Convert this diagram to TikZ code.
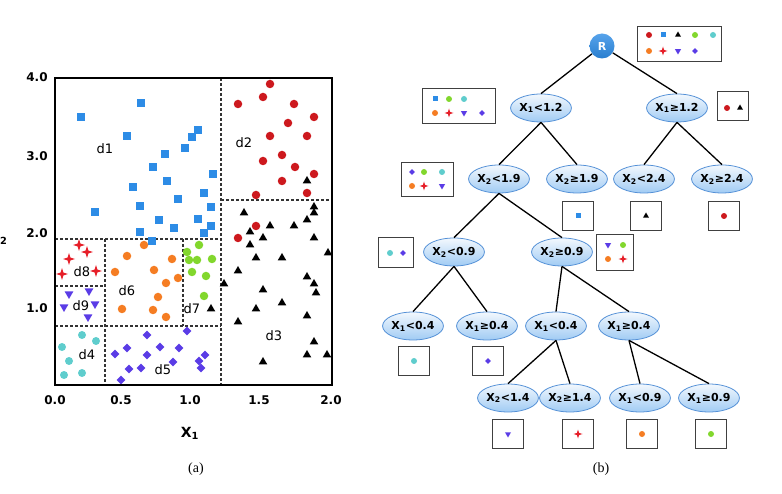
\documentclass[tikz,border=0pt]{standalone}
\usepackage{fontspec}
\setmainfont{DejaVu Sans}
\newfontfamily\capfont{Liberation Serif}
\usetikzlibrary{shapes.geometric}
\definecolor{ptblue}{RGB}{45,140,230}
\definecolor{ptred}{RGB}{205,25,30}
\definecolor{ptorange}{RGB}{245,125,35}
\definecolor{ptgreen}{RGB}{130,215,45}
\definecolor{ptcyan}{RGB}{95,205,205}
\definecolor{ptpurple}{RGB}{90,60,230}
\definecolor{ptcross}{RGB}{230,30,40}
\definecolor{nodeline}{RGB}{85,145,215}
\tikzset{%
    msq/.style={rectangle,fill=ptblue,minimum size=#1,inner sep=0pt},
    msq/.default=7.5pt,
    mci/.style={circle,fill=ptred,minimum size=#1,inner sep=0pt},
    mci/.default=8.5pt,
    mtri/.style={regular polygon,regular polygon sides=3,fill=black,minimum size=#1,inner sep=0pt},
    mtri/.default=10pt,
    mor/.style={circle,fill=ptorange,minimum size=#1,inner sep=0pt},
    mor/.default=8.5pt,
    mgr/.style={circle,fill=ptgreen,minimum size=#1,inner sep=0pt},
    mgr/.default=8.5pt,
    mcy/.style={circle,fill=ptcyan,minimum size=#1,inner sep=0pt},
    mcy/.default=8pt,
    mdn/.style={regular polygon,regular polygon sides=3,shape border rotate=180,fill=ptpurple,minimum size=#1,inner sep=0pt},
    mdn/.default=10pt,
    mdia/.style={diamond,fill=ptpurple,minimum size=#1,inner sep=0pt},
    mdia/.default=9pt,
    mcr/.style={star,star points=4,star point ratio=3,fill=ptcross,minimum size=#1,inner sep=0pt},
    mcr/.default=12pt,
    split/.style={dash pattern=on 3pt off 2pt,line width=1.1pt,black!80},
    test/.style={ellipse,draw=nodeline,line width=0.8pt,top color=ptblue!6,bottom color=ptblue!45,minimum width=58pt,minimum height=28pt,inner sep=0pt,font=\fontsize{11}{13}\selectfont\bfseries},
    root/.style={circle,top color=ptblue!80,bottom color=ptblue!90!black,minimum size=25pt,inner sep=0pt,text=white,font=\fontsize{11}{13}\selectfont\bfseries},
    mbox/.style={rectangle,draw=black!75,fill=white,line width=1pt,inner sep=0pt},
    lbox/.style={mbox,minimum width=31pt,minimum height=29pt},
    edge/.style={line width=1.3pt,black},
    tick/.style={font=\fontsize{12}{14}\selectfont\bfseries},
    dlab/.style={font=\fontsize{13}{15}\selectfont}
}
\begin{document}
\begin{tikzpicture}[x=1pt,y=-1pt]
\useasboundingbox (0,0) rectangle (782,494);

% ---- (a) the partition of the plane
\draw[split] (221,78) -- (221,385);
\draw[split] (221,200) -- (332,200);
\draw[split] (55,239) -- (221,239);
\draw[split] (55,326) -- (221,326);
\draw[split] (105,239) -- (105,385);
\draw[split] (55,286) -- (105,286);
\draw[split] (183,239) -- (183,326);

\foreach \x/\y [count=\i] in {81/117,141/103,127/136,192/137,198/130,185/148,165/154,153/167,167/181,133/187,213/174,204/193,178/199,211/207,140/206,95/212,159/220,198/219,174/228,211/226,140/232,204/233,152/241}
    \node[msq] (sq\i) at (\x,\y) {};
\foreach \x/\y [count=\i] in {270/84,238/104,263/97,294/104,314/117,288/123,270/136,307/136,263/161,282/155,295/167,282/181,314/174,307/193,256/195,256/226,238/238}
    \node[mci] (rc\i) at (\x,\y) {};
\foreach \x/\y [count=\i] in {307/181,314/207,314/213,244/213,307/220,294/226,270/226,250/232,263/238,314/238,250/245,328/253,256/258,282/258,238/271,307/277,224/284,314/284,263/290,316/293,282/303,256/309,307/316,238/322,314/342,307/355,327/355,263/362,211/309}
    \node[mtri] (tr\i) at (\x,\y) {};
\foreach \x/\y [count=\i] in {144/245,127/256,172/259,115/272,154/270,178/278,166/283,158/297,122/309,153/310,166/317}
    \node[mor] (oc\i) at (\x,\y) {};
\foreach \x/\y [count=\i] in {187/252,199/245,189/260,197/260,212/259,192/272,206/276,204/296}
    \node[mgr] (gc\i) at (\x,\y) {};
\foreach \x/\y [count=\i] in {79/245,87/252,69/259,62/274,96/271}
    \node[mcr] (cr\i) at (\x,\y) {};
\foreach \x/\y [count=\i] in {69/294,89/291,64/307,95/304,88/317}
    \node[mdn] (dn\i) at (\x,\y) {};
\foreach \x/\y [count=\i] in {82/335,96/341,62/347,69/361,64/375,82/373}
    \node[mcy] (cy\i) at (\x,\y) {};
\foreach \x/\y [count=\i] in {115/354,127/348,147/335,147/355,160/347,179/348,187/331,173/362,129/369,141/368,199/361,205/355,201/368,121/380}
    \node[mdia] (di\i) at (\x,\y) {};

\foreach \x/\y/\t in {105/149/d1,244/143/d2,274/336/d3,87/355/d4,163/370/d5,127/291/d6,192/309/d7,82/272/d8,81/306/d9}
    \node[dlab] (\t) at (\x,\y) {\t};

\draw[line width=2pt] (55,78) rectangle (332,385);

\foreach \x/\t [count=\i] in {55/0.0,121/0.5,190/1.0,259/1.5,331/2.0}
    \node[tick] (xt\i) at (\x,400) {\t};
\foreach \y/\t [count=\i] in {77/4.0,156/3.0,233/2.0,308/1.0}
    \node[tick] (yt\i) at (37,\y) {\t};
\node[tick,font=\fontsize{14}{16}\selectfont\bfseries] (xlab) at (190,433) {X\textsubscript{1}};
\node[tick,anchor=east,font=\fontsize{14}{16}\selectfont\bfseries] (ylab) at (11,238) {X\textsubscript{2}};
\node[font=\fontsize{14}{16}\selectfont\capfont] (capa) at (196,469) {(a)};

% ---- (b) the tree
\node[root] (R) at (602,46) {R};
\node[test] (a1) at (541,108) {X\textsubscript{1}<1.2};
\node[test] (a2) at (677,108) {X\textsubscript{1}≥1.2};
\node[test] (b1) at (499,179) {X\textsubscript{2}<1.9};
\node[test] (b2) at (577,179) {X\textsubscript{2}≥1.9};
\node[test] (b3) at (644,179) {X\textsubscript{2}<2.4};
\node[test] (b4) at (722,179) {X\textsubscript{2}≥2.4};
\node[test] (c1) at (454,252) {X\textsubscript{2}<0.9};
\node[test] (c2) at (562,252) {X\textsubscript{2}≥0.9};
\node[test] (d1n) at (413,326) {X\textsubscript{1}<0.4};
\node[test] (d2n) at (487,326) {X\textsubscript{1}≥0.4};
\node[test] (d3n) at (556,326) {X\textsubscript{1}<0.4};
\node[test] (d4n) at (629,326) {X\textsubscript{1}≥0.4};
\node[test] (e1) at (508,398) {X\textsubscript{2}<1.4};
\node[test] (e2) at (570,398) {X\textsubscript{2}≥1.4};
\node[test] (e3) at (640,398) {X\textsubscript{1}<0.9};
\node[test] (e4) at (709,398) {X\textsubscript{1}≥0.9};

\draw[edge] (R) -- (a1.north);
\draw[edge] (R) -- (a2.north);
\draw[edge] (a1.south) -- (b1.north);
\draw[edge] (a1.south) -- (b2.north);
\draw[edge] (a2.south) -- (b3.north);
\draw[edge] (a2.south) -- (b4.north);
\draw[edge] (b1.south) -- (c1.north);
\draw[edge] (b1.south) -- (c2.north);
\draw[edge] (c1.south) -- (d1n.north);
\draw[edge] (c1.south) -- (d2n.north);
\draw[edge] (c2.south) -- (d3n.north);
\draw[edge] (c2.south) -- (d4n.north);
\draw[edge] (d3n.south) -- (e1.north);
\draw[edge] (d3n.south) -- (e2.north);
\draw[edge] (d4n.south) -- (e3.north);
\draw[edge] (d4n.south) -- (e4.north);

% class boxes beside the tests
\node[mbox,minimum width=84pt,minimum height=35pt] (allcls) at (679,44) {};
\node[mci=6pt] (k1) at (649,35) {};
\node[msq=5pt] (k2) at (663,35) {};
\node[mtri=7pt] (k3) at (678,35) {};
\node[mgr=6pt] (k4) at (695,35) {};
\node[mcy=6pt] (k5) at (713,35) {};
\node[mor=6pt] (k6) at (649,51) {};
\node[mcr=9pt] (k7) at (663,51) {};
\node[mdn=7pt] (k8) at (678,51) {};
\node[mdia=6pt] (k9) at (695,51) {};

\node[mbox,minimum width=73pt,minimum height=35pt] (lcls) at (459,106) {};
\node[msq=5pt] (l1) at (435,99) {};
\node[mgr=6pt] (l2) at (449,99) {};
\node[mcy=6pt] (l3) at (464,99) {};
\node[mor=6pt] (l4) at (435,113) {};
\node[mcr=9pt] (l5) at (449,113) {};
\node[mdn=7pt] (l6) at (464,113) {};
\node[mdia=6pt] (l7) at (482,113) {};

\node[lbox] (rcls) at (733,106) {};
\node[mci=6pt] (r1) at (727,108) {};
\node[mtri=7pt] (r2) at (740,108) {};

\node[mbox,minimum width=52pt,minimum height=34pt] (bcls) at (427,180) {};
\node[mdia=6pt] (m1) at (412,172) {};
\node[mgr=6pt] (m2) at (424,172) {};
\node[mcy=6pt] (m3) at (442,172) {};
\node[mor=6pt] (m4) at (412,186) {};
\node[mcr=9pt] (m5) at (424,186) {};
\node[mdn=7pt] (m6) at (442,186) {};

\node[mbox,minimum width=35pt,minimum height=30pt] (ccls) at (396,253) {};
\node[mcy=6pt] (n1) at (390,253) {};
\node[mdia=6pt] (n2) at (403,253) {};

\node[mbox,minimum width=37pt,minimum height=36pt] (dcls) at (615,253) {};
\node[mdn=7pt] (o1) at (608,245) {};
\node[mgr=6pt] (o2) at (623,245) {};
\node[mor=6pt] (o3) at (608,259) {};
\node[mcr=9pt] (o4) at (623,259) {};

% leaves
\node[lbox] (lf1) at (578,216) {};
\node[msq=5pt] at (lf1) {};
\node[lbox] (lf2) at (646,216) {};
\node[mtri=7pt] at (lf2) {};
\node[lbox] (lf3) at (724,216) {};
\node[mci=6pt] at (lf3) {};
\node[lbox] (lf4) at (414,361) {};
\node[mcy=6pt] at (lf4) {};
\node[lbox] (lf5) at (488,361) {};
\node[mdia=6pt] at (lf5) {};
\node[lbox] (lf6) at (508,434) {};
\node[mdn=7pt] at (lf6) {};
\node[lbox] (lf7) at (578,434) {};
\node[mcr=9pt] at (lf7) {};
\node[lbox] (lf8) at (642,434) {};
\node[mor=6pt] at (lf8) {};
\node[lbox] (lf9) at (711,434) {};
\node[mgr=6pt] at (lf9) {};

\node[font=\fontsize{14}{16}\selectfont\capfont] (capb) at (601,469) {(b)};
\end{tikzpicture}
\end{document}
